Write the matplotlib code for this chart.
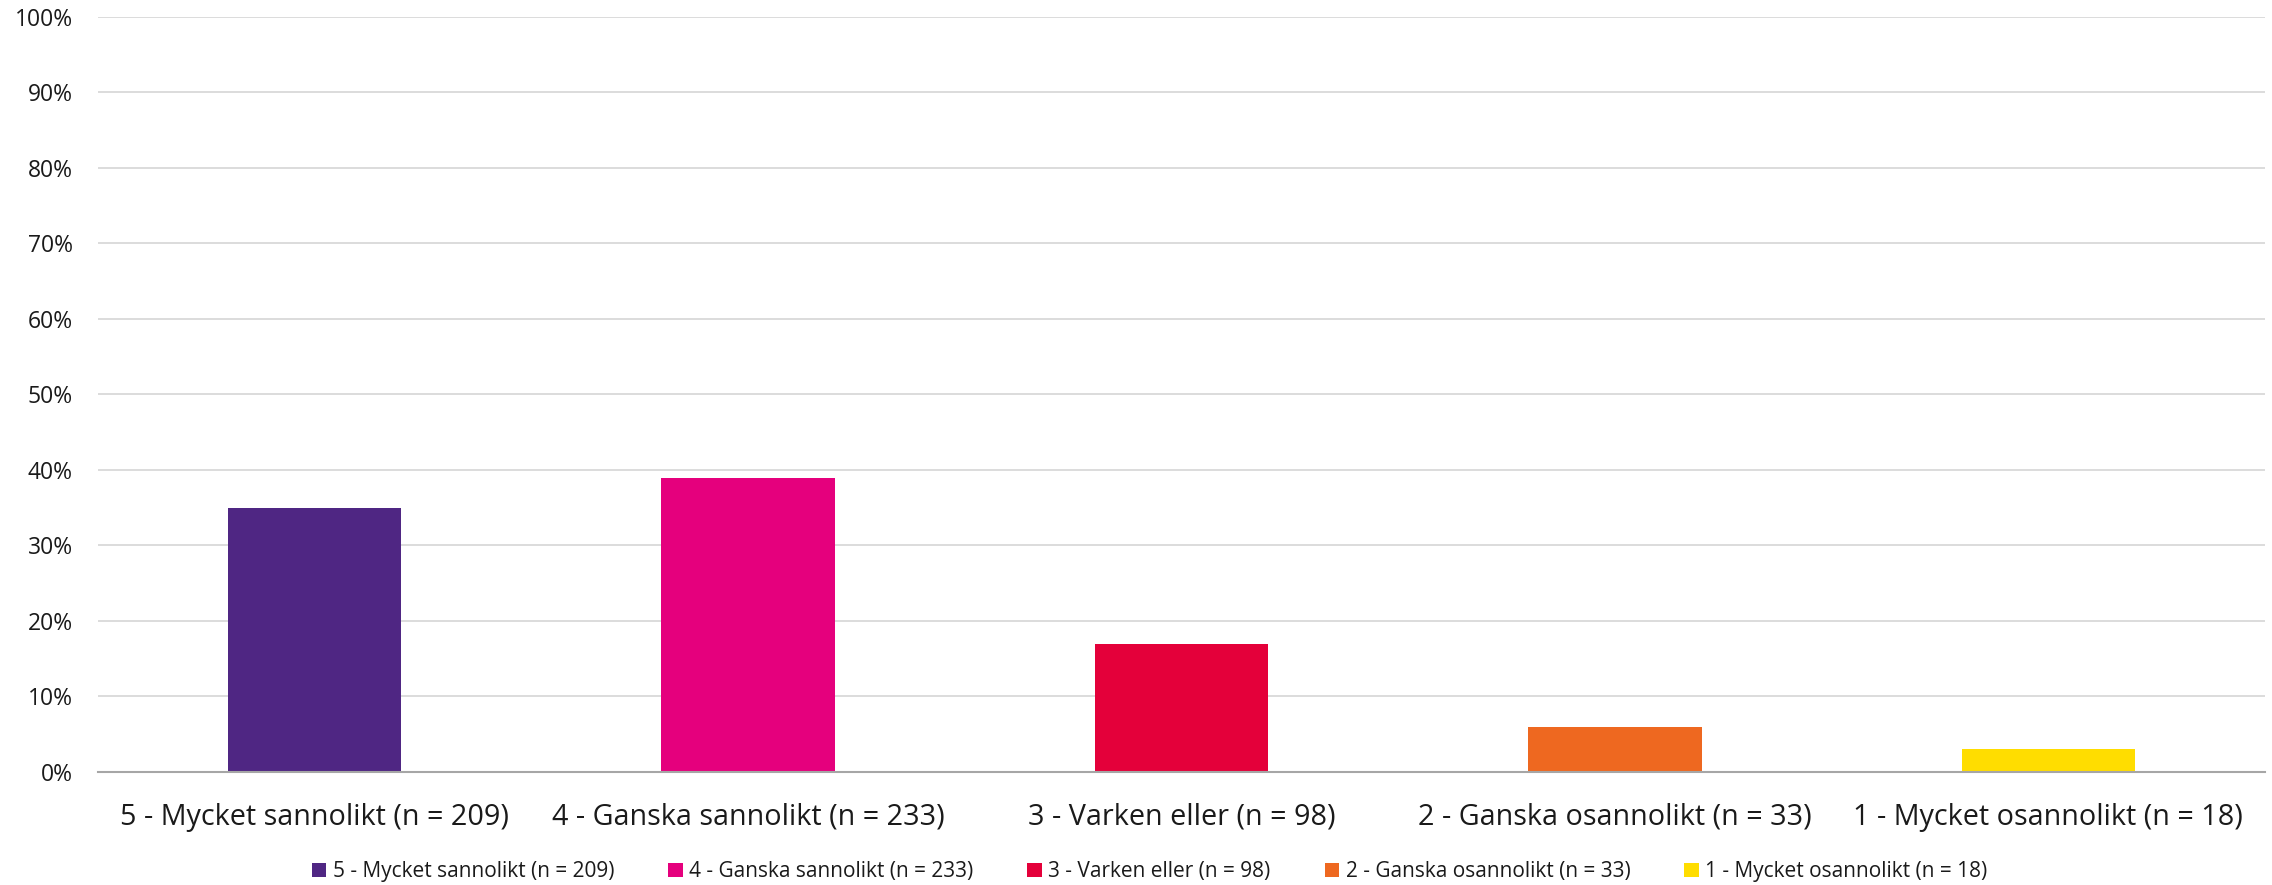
import matplotlib
matplotlib.use("Agg")
import matplotlib.pyplot as plt
from matplotlib.patches import Patch
from matplotlib.ticker import PercentFormatter, MultipleLocator

plt.rcParams['font.family'] = ['Open Sans', 'DejaVu Sans']

categories = [
    "5 - Mycket sannolikt (n = 209)",
    "4 - Ganska sannolikt (n = 233)",
    "3 - Varken eller (n = 98)",
    "2 - Ganska osannolikt (n = 33)",
    "1 - Mycket osannolikt (n = 18)",
]
shares = [35, 39, 17, 6, 3]
colors = ["#4F2683", "#E5007D", "#E4003A", "#EE6820", "#FFDD00"]

fig = plt.figure(figsize=(22.72, 8.85), dpi=100)
ax = fig.add_axes([0.0431, 0.1277, 0.9538, 0.8531])

x = range(len(categories))
ax.bar(x, shares, width=0.40, color=colors, zorder=3)

ax.set_xlim(-0.5, len(categories) - 0.5)
ax.set_ylim(0, 100)
ax.yaxis.set_major_locator(MultipleLocator(10))
ax.yaxis.set_major_formatter(PercentFormatter(decimals=0))
ax.set_xticks(list(x))
ax.set_xticklabels(categories, fontsize=20.7, color="#1a1a1a")
ax.tick_params(axis="y", length=0, pad=18, labelsize=16.5, labelcolor="#1a1a1a")
ax.tick_params(axis="x", length=0, pad=22)

ax.grid(axis="y", color="#D9D9D9", linewidth=1.3, zorder=0)
for side in ("top", "right", "left"):
    ax.spines[side].set_visible(False)
ax.spines["bottom"].set_color("#A6A6A6")
ax.spines["bottom"].set_linewidth(1.5)
ax.spines["bottom"].set_zorder(4)

handles = [Patch(facecolor=c, edgecolor="none") for c in colors]
fig.legend(handles, categories, loc="center", bbox_to_anchor=(0.506, 0.0147),
           ncol=5, frameon=False, fontsize=15, handlelength=0.7, handleheight=0.7,
           handletextpad=0.3, columnspacing=2.6, labelcolor="#1a1a1a")

fig.savefig("out.png", dpi=100, facecolor="white")
